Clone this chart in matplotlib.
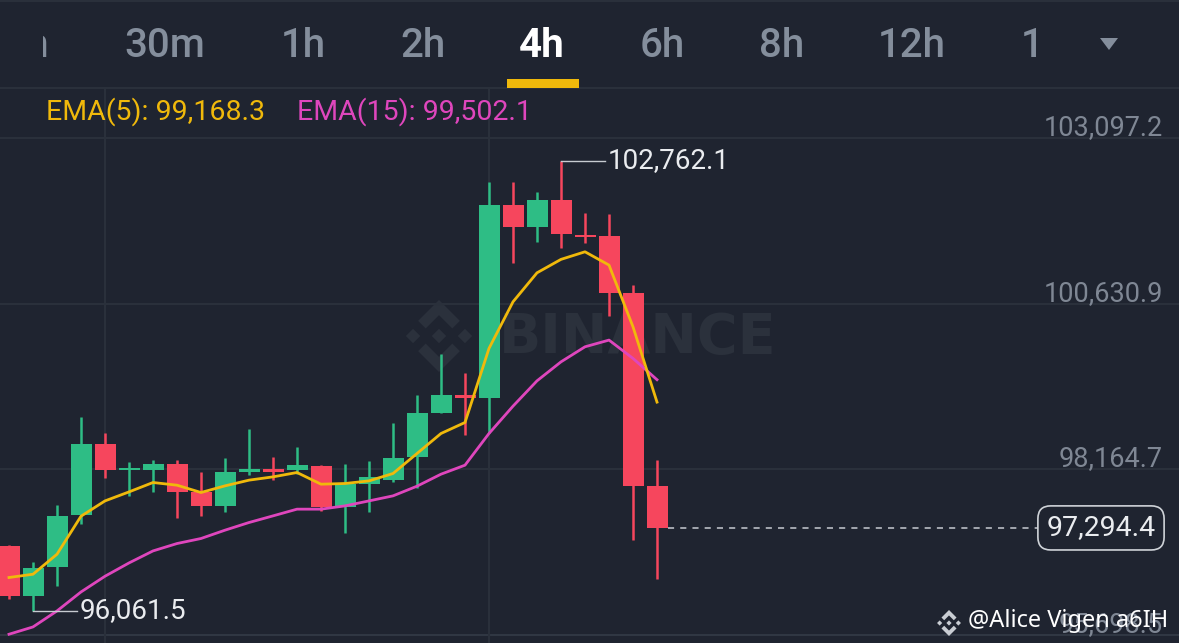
import matplotlib.pyplot as plt
import matplotlib.transforms as mtransforms
from matplotlib.patches import Polygon, Rectangle
import numpy as np

# 4h BTC candles, oldest first
opens = [97022, 96277, 96714, 97484, 98542, 98155, 98155, 98244, 97831, 97623,
         98120, 98170, 98155, 98219, 97608, 97956, 98006, 98344, 99008, 99272,
         99223, 102103, 101780, 102178, 101656, 101641, 100787, 97916]
highs = [97033, 96784, 97633, 98949, 98710, 98269, 98304, 98304, 98120, 98329,
         98761, 98344, 98493, 98229, 98244, 98293, 98850, 99272, 99883, 99595,
         102441, 102441, 102292, 102762.1, 101979, 101965, 100911, 98304]
lows = [96243, 96061.5, 96426, 97360, 98031, 97767, 97831, 97435, 97469, 97533,
        98076, 98006, 98105, 97544, 97226, 97533, 97980, 97882, 99004, 98676,
        98701, 101234, 101556, 101467, 101532, 100449, 97112, 96541]
closes = [96277, 96705, 97474, 98542, 98155, 98180, 98244, 97831, 97618, 98120,
          98170, 98129, 98229, 97608, 97956, 98046, 98329, 98999, 99272, 99223,
          102103, 101780, 102178, 101667, 101622, 100796, 97916, 97294.4]
ema5 = [96556, 96605, 96903, 97469, 97697, 97831, 97971, 97931, 97822, 97921,
        98006, 98055, 98120, 97946, 97956, 97995, 98105, 98403, 98701, 98865,
        99968, 100662, 101094, 101294, 101407, 101209, 100290, 99168.3]
ema15 = [95711, 95820, 96058, 96341, 96575, 96773, 96952, 97062, 97137, 97261,
         97375, 97474, 97574, 97574, 97623, 97697, 97772, 97916, 98095, 98229,
         98701, 99108, 99485, 99768, 99992, 100092, 99819, 99502.1]

price_ticks = [103097.2, 100630.9, 98164.7, 95698.5]
time_grid = [4, 20]  # candle indexes with a vertical grid line
tabs = ["30m", "1h", "2h", "4h", "6h", "8h", "12h", "1"]
active_tab = "4h"

BG = '#1f2430'
GRID = '#2a303b'
UP = '#2ebd85'
DOWN = '#f6465d'
YELLOW = '#f0b90b'
PINK = '#df46bd'
LABEL = '#7f8794'
WHITE = '#eaecef'
FONT = 'Roboto'

W, H = 1179, 643
fig = plt.figure(figsize=(W / 100, H / 100), dpi=100, facecolor=BG)

# pixel-space background layer (tabs, watermark)
bg = fig.add_axes([0, 0, 1, 1], zorder=0)
bg.set_xlim(0, W)
bg.set_ylim(H, 0)
bg.axis('off')

bg.plot([0, W], [0.5, 0.5], color=GRID, lw=1.5)
bg.plot([0, W], [88, 88], color=GRID, lw=1.5)

# Binance watermark in the middle of the chart
def binance_logo(axis, cx, cy, r, color, z):
    pts_top = [(0, 1.0), (0.58, 0.42), (0.37, 0.21), (0, 0.58), (-0.37, 0.21), (-0.58, 0.42)]
    shapes = [pts_top, [(x, -y) for x, y in pts_top]]
    for ox in (-0.72, 0.0, 0.72):
        shapes.append([(ox, 0.2), (ox + 0.2, 0), (ox, -0.2), (ox - 0.2, 0)])
    for s in shapes:
        axis.add_patch(Polygon([(cx + x * r, cy - y * r) for x, y in s],
                               closed=True, fc=color, ec='none', zorder=z))

binance_logo(bg, 439, 336, 36, '#2b313c', 1)
bg.text(638, 338, "BINANCE", color='#2b313c', fontsize=40, fontweight='bold',
        family='DejaVu Sans', ha='center', va='center')

# timeframe tabs
tab_ax = fig.add_axes([43 / W, (H - 88) / H, (W - 43) / W, 88 / H], zorder=2)
tab_ax.set_xlim(43, W)
tab_ax.set_ylim(88, 0)
tab_ax.axis('off')
tab_ax.text(49, 46, "15m", color='#848e9c', fontsize=29, family=FONT,
            fontweight='medium', ha='right', va='center', clip_on=True)
tab_x = [165, 303, 423, 542, 662, 782, 912, 1032]
for label, x in zip(tabs, tab_x):
    on = label == active_tab
    tab_ax.text(x, 46, label, color='white' if on else '#848e9c', fontsize=29,
                family=FONT, fontweight='bold' if on else 'medium',
                ha='center', va='center')
    if on:
        tab_ax.add_patch(Rectangle((507, 79), 72, 9, fc=YELLOW, ec='none'))
tab_ax.add_patch(Polygon([(1100, 38), (1118, 38), (1109, 50)], closed=True,
                         fc='#848e9c', ec='none'))

# main price chart
ax = fig.add_axes([0, 0, 1, (H - 88) / H], zorder=1)
ax.patch.set_alpha(0)
ax.axis('off')
ax.set_xlim(-0.375, 48.75)
ax.set_ylim(95580.7, 103846.3)

for p in price_ticks:
    ax.axhline(p, color=GRID if p != price_ticks[-1] else '#303743', lw=1.5, zorder=0)
for t in time_grid:
    ax.axvline(t, color=GRID, lw=1.5, zorder=0)

idx = np.arange(len(opens))
o = np.array(opens)
c = np.array(closes)
colors = [UP if cc >= oo else DOWN for oo, cc in zip(o, c)]
ax.vlines(idx, lows, highs, colors=colors, lw=1.8, zorder=2)
body = np.maximum(np.abs(c - o), 30)
ax.bar(idx, body, bottom=np.minimum(o, c), width=0.875, color=colors,
       edgecolor='none', zorder=3)

ax.plot(idx, ema15, color=PINK, lw=2.0, zorder=4)
ax.plot(idx, ema5, color=YELLOW, lw=2.0, zorder=4)

# right-hand price labels
lab_tr = mtransforms.offset_copy(
    mtransforms.blended_transform_factory(ax.transAxes, ax.transData),
    fig=fig, y=3, units='dots')
for p in price_ticks:
    ax.text(1163 / W, p, f"{p:,.1f}", transform=lab_tr, color=LABEL,
            fontsize=19.5, family=FONT, ha='right', va='baseline', zorder=1)

# high / low markers
i_hi = int(np.argmax(highs))
i_lo = int(np.argmin(lows))
for i, val in ((i_hi, highs[i_hi]), (i_lo, lows[i_lo])):
    ax.plot([i, i + 1.85], [val, val], color='#c7cbd1', lw=1, zorder=5)
    ax.text(i + 1.95, val, f"{val:,.1f}", color=WHITE, fontsize=20,
            family=FONT, ha='left', va='center', zorder=5)

# last price line and box
last = closes[-1]
x0, x1 = ax.get_xlim()
x_end = x0 + (1038 / W) * (x1 - x0)
ax.plot([idx[-1] + 0.44, x_end], [last, last], color='#c7cbd1', lw=1.1,
        ls=(0, (4, 4)), zorder=5)
ax.text(1101 / W, last, f"{last:,.1f}", color=WHITE, fontsize=20.5, family=FONT,
        ha='center', va='center',
        transform=mtransforms.blended_transform_factory(ax.transAxes, ax.transData),
        bbox=dict(boxstyle='round,pad=0.3,rounding_size=0.45', fc=BG,
                  ec='#cfd3d8', lw=1.2), zorder=6)

# top overlay: EMA legend and author tag
top = fig.add_axes([0, 0, 1, 1], zorder=3)
top.set_xlim(0, W)
top.set_ylim(H, 0)
top.axis('off')
top.text(46, 112, f"EMA(5): {ema5[-1]:,.1f}", color=YELLOW, fontsize=20.5,
         family=FONT, ha='left', va='center')
top.text(297, 112, f"EMA(15): {ema15[-1]:,.1f}", color=PINK, fontsize=20.5,
         family=FONT, ha='left', va='center')

binance_logo(top, 949, 623, 13, '#c9cdd3', 5)
top.text(968, 621, "@Alice Vigen a6IH", color='white', fontsize=17,
         family='Noto Sans', ha='left', va='center', zorder=6)

fig.savefig('out.png', dpi=100, facecolor=BG)
